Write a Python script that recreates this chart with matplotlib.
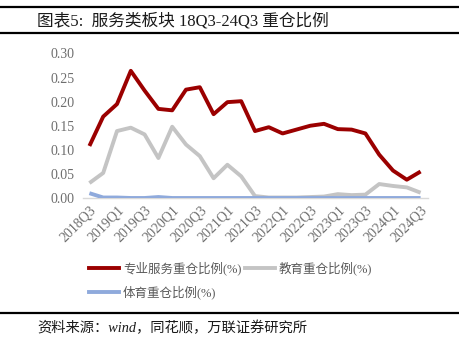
import matplotlib.pyplot as plt
from matplotlib.lines import Line2D

plt.rcParams['font.family'] = ['Liberation Serif', 'Noto Sans CJK SC']

# ---------------------------
# Data
# ---------------------------
quarters = ["2018Q3", "2018Q4", "2019Q1", "2019Q2", "2019Q3", "2019Q4", "2020Q1",
            "2020Q2", "2020Q3", "2020Q4", "2021Q1", "2021Q2", "2021Q3", "2021Q4",
            "2022Q1", "2022Q2", "2022Q3", "2022Q4", "2023Q1", "2023Q2", "2023Q3",
            "2023Q4", "2024Q1", "2024Q2", "2024Q3"]
pro_service = [0.108, 0.169, 0.195, 0.264, 0.223, 0.185, 0.182, 0.225, 0.230, 0.174,
               0.199, 0.201, 0.139, 0.147, 0.134, 0.142, 0.150, 0.154, 0.143, 0.142,
               0.134, 0.090, 0.057, 0.038, 0.055]
education = [0.031, 0.052, 0.139, 0.146, 0.132, 0.083, 0.148, 0.111, 0.087, 0.041,
             0.069, 0.045, 0.004, 0.001, 0.001, 0.001, 0.002, 0.003, 0.008, 0.006,
             0.007, 0.029, 0.025, 0.022, 0.011]
sports = [0.010, 0.001, 0.001, 0.000, 0.000, 0.002, 0.000, 0.000, 0.000, 0.000,
          0.000, 0.000, 0.000, 0.000, 0.000, 0.000, 0.000, 0.000, 0.000, 0.000,
          0.000, 0.000, 0.000, 0.000, 0.000]
series_names = ["专业服务重仓比例(%)", "教育重仓比例(%)", "体育重仓比例(%)"]
colors = ["#9B0000", "#C4C4C4", "#8FAADC"]
yticks = [0.00, 0.05, 0.10, 0.15, 0.20, 0.25, 0.30]

# ---------------------------
# Figure
# ---------------------------
fig = plt.figure(figsize=(4.59, 3.44), dpi=100)
ax = fig.add_axes([82.5 / 459, 1 - 198 / 344, 345 / 459, 144.5 / 344])

x = list(range(len(quarters)))
# draw sports first so it sits under the others, same as reference
ax.plot(x, sports, color=colors[2], lw=2.8, solid_capstyle='butt', zorder=3)
ax.plot(x, education, color=colors[1], lw=2.8, solid_capstyle='butt', zorder=2)
ax.plot(x, pro_service, color=colors[0], lw=2.8, solid_capstyle='butt', zorder=4)

ax.set_xlim(-0.5, len(quarters) - 0.5)
ax.set_ylim(0, 0.30)
ax.set_yticks(yticks)
ax.set_yticklabels([f"{v:.2f}" for v in yticks], fontsize=10, color="#6E6E6E")
ax.set_xticks(x[::2])
ax.set_xticklabels(quarters[::2], rotation=45, ha='right', rotation_mode='anchor',
                   fontsize=10, color="#6E6E6E")
ax.tick_params(axis='both', length=0)
ax.tick_params(axis='y', pad=6)
ax.tick_params(axis='x', pad=4)
for side in ['top', 'right', 'left']:
    ax.spines[side].set_visible(False)
ax.spines['bottom'].set_color("#D9D9D9")
ax.spines['bottom'].set_linewidth(1.0)

# legend, laid out like the excel one
handles = [Line2D([0], [0], color=c, lw=2.8) for c in colors]
fig.legend(handles[:2], series_names[:2], loc='center left',
           bbox_to_anchor=(78 / 459, 1 - 268 / 344), ncol=2, frameon=False,
           fontsize=9, handlelength=2.4, handletextpad=0.3, columnspacing=0.3,
           labelcolor="#595959")
fig.legend(handles[2:], series_names[2:], loc='center left',
           bbox_to_anchor=(78 / 459, 1 - 292.5 / 344), frameon=False,
           fontsize=9, handlelength=2.4, handletextpad=0.3, labelcolor="#595959")

# title block with rules
fig.add_artist(Line2D([0, 1], [1 - 7 / 344] * 2, color='black', lw=1.6))
fig.add_artist(Line2D([0, 1], [1 - 33 / 344] * 2, color='black', lw=1.6))
fig.text(37 / 459, 1 - 21 / 344, "图表5:  服务类板块 18Q3-24Q3 重仓比例",
         fontsize=12, va='center', ha='left', color="#1A1A1A")

# source
fig.add_artist(Line2D([0, 1], [1 - 313 / 344] * 2, color='black', lw=1.6))
fig.text(37 / 459, 1 - 328 / 344, "资料来源：wind，同花顺，万联证券研究所",
         fontsize=10.3, va='center', ha='left', style='italic', color="#1A1A1A")

fig.savefig("out.png", dpi=100)
